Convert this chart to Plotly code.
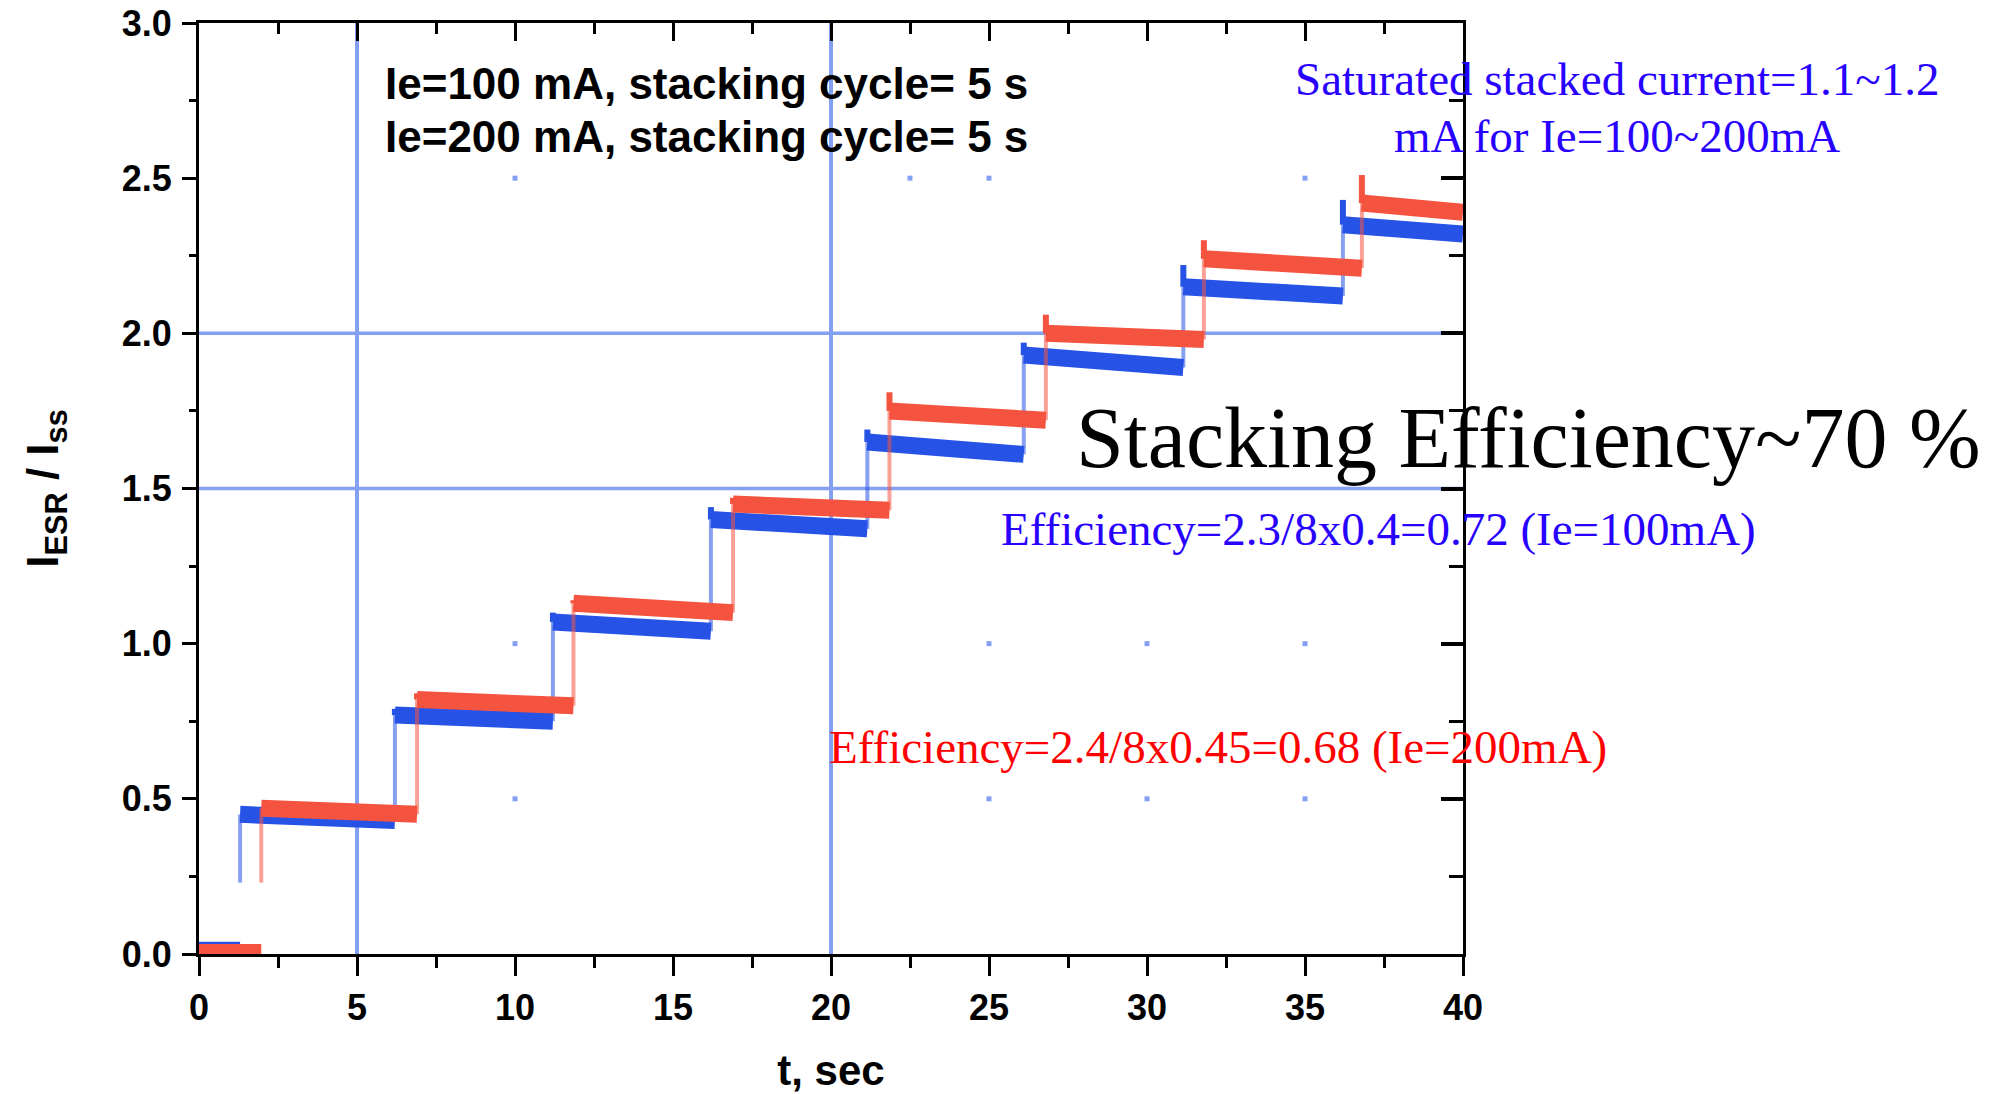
import plotly.graph_objects as go

# ---- measured data: I_ESR / I_ss versus time -------------------------------
# Ie = 100 mA (blue): injection times and plateau levels
blue_inject_t = [1.3, 6.2, 11.2, 16.2, 21.15, 26.1, 31.15, 36.2]
blue_spike = [0.23, 0.79, 1.10, 1.44, 1.69, 1.97, 2.22, 2.43]
blue_start = [0.45, 0.77, 1.07, 1.40, 1.65, 1.93, 2.15, 2.35]
blue_end = [0.43, 0.75, 1.04, 1.37, 1.61, 1.89, 2.12, 2.32]
blue_base = 0.012

# Ie = 200 mA (red)
red_inject_t = [1.97, 6.9, 11.85, 16.9, 21.85, 26.8, 31.8, 36.8]
red_spike = [0.23, 0.84, 1.14, 1.47, 1.81, 2.06, 2.30, 2.51]
red_start = [0.47, 0.82, 1.13, 1.45, 1.75, 2.00, 2.24, 2.42]
red_end = [0.45, 0.80, 1.10, 1.43, 1.72, 1.98, 2.21, 2.39]
red_base = 0.005

t_max = 40

# highlighted grid lines and leftover grid dots
grid_t = [5, 20]
grid_y = [1.5, 2.0]
dot_t = [10, 22.5, 25, 35, 10, 25, 30, 35, 10, 25, 30, 35]
dot_y = [2.5, 2.5, 2.5, 2.5, 1.0, 1.0, 1.0, 1.0, 0.5, 0.5, 0.5, 0.5]

x_ticks = [0, 5, 10, 15, 20, 25, 30, 35, 40]
x_ticktext = ["0", "5", "10", "15", "20", "25", "30", "35", "40"]
y_ticks = [0.0, 0.5, 1.0, 1.5, 2.0, 2.5, 3.0]

legend_lines = ["Ie=100 mA, stacking cycle= 5 s", "Ie=200 mA, stacking cycle= 5 s"]

BLUE = "#2652e6"
BLUE_LIGHT = "rgba(38,82,230,0.55)"
RED = "#f4533f"
RED_LIGHT = "rgba(244,83,63,0.55)"
GRID = "#84a0f2"
SANS = "Liberation Sans, Arial, sans-serif"
SERIF = "Liberation Serif, Times New Roman, serif"


def build_paths(inject_t, spike, start, end, base):
    """Plateau bands, vertical transitions and injection spikes as gap-separated paths."""
    px, py = [0, inject_t[0], None], [base, base, None]
    tx, ty, sx, sy = [], [], [], []
    n = len(inject_t)
    for i in range(n):
        t0 = inject_t[i]
        t1 = inject_t[i + 1] if i + 1 < n else t_max
        px += [t0, t1, None]
        py += [start[i], end[i], None]
        if i == 0:
            tx += [t0, t0, None]
            ty += [spike[i], start[i], None]
        else:
            tx += [t0, t0, None]
            ty += [end[i - 1], start[i], None]
            sx += [t0, t0, None]
            sy += [start[i], spike[i], None]
    return (px, py), (tx, ty), (sx, sy)


fig = go.Figure()

for name, color, light, data in [
    (legend_lines[0], BLUE, BLUE_LIGHT, (blue_inject_t, blue_spike, blue_start, blue_end, blue_base)),
    (legend_lines[1], RED, RED_LIGHT, (red_inject_t, red_spike, red_start, red_end, red_base)),
]:
    (px, py), (tx, ty), (sx, sy) = build_paths(*data)
    fig.add_trace(go.Scatter(x=tx, y=ty, mode="lines", line=dict(color=light, width=4),
                             showlegend=False, hoverinfo="skip"))
    fig.add_trace(go.Scatter(x=sx, y=sy, mode="lines", line=dict(color=color, width=6),
                             showlegend=False, hoverinfo="skip"))
    fig.add_trace(go.Scatter(x=px, y=py, mode="lines", name=name,
                             line=dict(color=color, width=17), showlegend=False))

fig.add_trace(go.Scatter(x=dot_t, y=dot_y, mode="markers",
                         marker=dict(symbol="square", size=5, color=GRID),
                         showlegend=False, hoverinfo="skip"))

# companion axes carrying the inward ticks on the top and right frame
fig.add_trace(go.Scatter(x=[None], y=[None], xaxis="x2", yaxis="y2",
                         showlegend=False, hoverinfo="skip"))

for t in grid_t:
    fig.add_vline(x=t, line=dict(color=GRID, width=4), layer="below")
for yv in grid_y:
    fig.add_hline(y=yv, line=dict(color=GRID, width=3.5), layer="below")

tick_font = dict(family=SANS, size=36, color="black", weight="bold")

fig.update_layout(
    width=1990, height=1094,
    margin=dict(l=199, r=527, t=23, b=140, autoexpand=False),
    paper_bgcolor="white", plot_bgcolor="white",
    xaxis=dict(
        range=[0, t_max], tickvals=x_ticks, ticktext=x_ticktext, automargin=False,
        ticks="outside", ticklen=19, tickwidth=3, tickcolor="black",
        minor=dict(dtick=2.5, tick0=0, ticks="outside", ticklen=11, tickwidth=3,
                   tickcolor="black", showgrid=False),
        showline=True, linewidth=3, linecolor="black",
        showgrid=False, zeroline=False, tickfont=tick_font, ticklabelstandoff=1,
        title=dict(text="t, sec", font=dict(family=SANS, size=42, color="black", weight="bold"),
                   standoff=30),
    ),
    yaxis=dict(
        range=[0, 3], tickvals=y_ticks, tickformat=".1f", automargin=False,
        ticks="outside", ticklen=14, tickwidth=3, tickcolor="black",
        minor=dict(dtick=0.25, tick0=0, ticks="outside", ticklen=7, tickwidth=3,
                   tickcolor="black", showgrid=False),
        showline=True, linewidth=3, linecolor="black",
        showgrid=False, zeroline=False, tickfont=tick_font, ticklabelstandoff=3,
        title=dict(text="I<sub>ESR</sub> / I<sub>ss</sub>",
                   font=dict(family=SANS, size=44, color="black", weight="bold"),
                   standoff=50),
    ),
    xaxis2=dict(
        overlaying="x", side="top", range=[0, t_max], tickvals=x_ticks, automargin=False,
        ticks="inside", ticklen=18, tickwidth=3, tickcolor="black",
        minor=dict(dtick=2.5, tick0=0, ticks="inside", ticklen=11, tickwidth=3,
                   tickcolor="black", showgrid=False),
        showticklabels=False, showline=True, linewidth=3, linecolor="black",
        showgrid=False, zeroline=False,
    ),
    yaxis2=dict(
        overlaying="y", side="right", range=[0, 3], tickvals=y_ticks, automargin=False,
        ticks="inside", ticklen=22, tickwidth=4, tickcolor="black",
        minor=dict(dtick=0.25, tick0=0, ticks="inside", ticklen=14, tickwidth=3,
                   tickcolor="black", showgrid=False),
        showticklabels=False, showline=True, linewidth=3, linecolor="black",
        showgrid=False, zeroline=False,
    ),
)

# legend entries
for text, yp in zip(legend_lines, [0.9345, 0.8786]):
    fig.add_annotation(x=0.1456, y=yp, xref="paper", yref="paper", text=text,
                       xanchor="left", yanchor="middle", showarrow=False,
                       font=dict(family=SANS, size=44, color="black", weight="bold"))

# explanatory notes
notes = [
    ("Saturated stacked current=1.1~1.2", 1.1218, 0.9398, 47, "#2800ff"),
    ("mA for Ie=100~200mA", 1.1218, 0.8786, 47, "#2800ff"),
    ("Stacking Efficiency~70 %", 1.0522, 0.5542, 86, "black"),
    ("Efficiency=2.3/8x0.4=0.72 (Ie=100mA)", 0.9335, 0.4565, 47, "#2800ff"),
    ("Efficiency=2.4/8x0.45=0.68 (Ie=200mA)", 0.8062, 0.2223, 47, "#ff0000"),
]
for text, xp, yp, size, color in notes:
    fig.add_annotation(x=xp, y=yp, xref="paper", yref="paper", text=text,
                       xanchor="center", yanchor="middle", showarrow=False,
                       font=dict(family=SERIF, size=size, color=color))

fig.write_html("out.html")
